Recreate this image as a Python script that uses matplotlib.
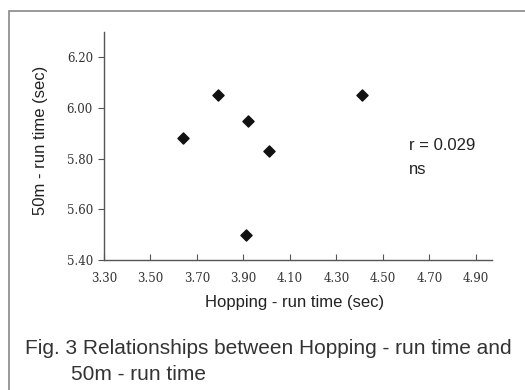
import matplotlib
matplotlib.use("Agg")
import matplotlib.pyplot as plt
from matplotlib.patches import Rectangle

hopping = [3.64, 3.79, 3.92, 4.01, 3.91, 4.41]
run50 = [5.88, 6.05, 5.95, 5.83, 5.50, 6.05]
xticks = [3.30, 3.50, 3.70, 3.90, 4.10, 4.30, 4.50, 4.70, 4.90]
yticks = [5.40, 5.60, 5.80, 6.00, 6.20]

W, H = 525, 390
fig = plt.figure(figsize=(W/100, H/100), dpi=100)
ax = fig.add_axes([104/W, 1-260/H, (492-104)/W, (260-32)/H])

ax.scatter(hopping, run50, marker='D', s=32, color='#111111', zorder=3)
ax.set_xlim(3.30, 4.97)
ax.set_ylim(5.40, 6.30)
ax.set_xticks(xticks)
ax.set_yticks(yticks)
ax.set_xticklabels([f"{v:.2f}" for v in xticks], family='DejaVu Serif', fontsize=8.5, color='#333333')
ax.set_yticklabels([f"{v:.2f}" for v in yticks], family='DejaVu Serif', fontsize=8.5, color='#333333')
ax.tick_params(axis='x', direction='in', length=4, color='#555555', pad=9)
ax.tick_params(axis='y', direction='out', length=4, color='#555555', pad=4)
for s in ['top', 'right']:
    ax.spines[s].set_visible(False)
for s in ['left', 'bottom']:
    ax.spines[s].set_color('#555555')
    ax.spines[s].set_linewidth(1.0)

sans = ['Liberation Sans', 'DejaVu Sans']
fig.text(295/W, 1-302/H, "Hopping - run time (sec)", ha='center', va='center',
         family=sans, fontsize=12, color='#222222')
fig.text(41/W, 1-140/H, "50m - run time (sec)", ha='center', va='center', rotation=90,
         family=sans, fontsize=12, color='#222222')
fig.text(409/W, 1-145/H, "r = 0.029", ha='left', va='center', family=sans, fontsize=12, color='#222222')
fig.text(409/W, 1-169/H, "ns", ha='left', va='center', family=sans, fontsize=12, color='#222222')

fig.text(25/W, 1-348/H, "Fig. 3 Relationships between Hopping - run time and", ha='left', va='center',
         family=sans, fontsize=15, color='#333333')
fig.text(71/W, 1-375/H, "50m - run time", ha='left', va='center',
         family=sans, fontsize=15, color='#333333')

fig.add_artist(Rectangle((9/W, -0.05), 1.1, 1-11/H+0.05, transform=fig.transFigure,
                         fill=False, edgecolor='#888888', linewidth=1.2))

fig.savefig("out.png", dpi=100)
